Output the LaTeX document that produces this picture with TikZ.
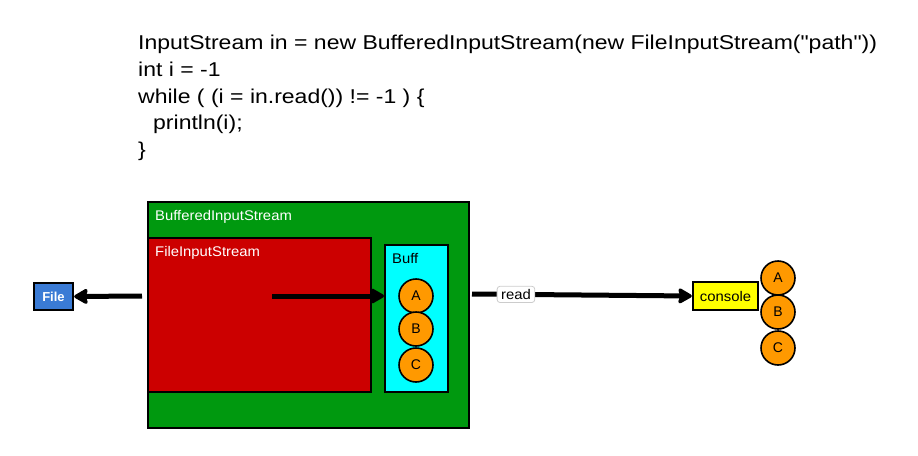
\documentclass[tikz,border=0pt]{standalone}
\usepackage{fontspec}
\usepackage{graphicx}
\setmainfont{Liberation Sans}
\usetikzlibrary{arrows.meta}
\definecolor{bgreen}{RGB}{0,153,15}
\definecolor{fred}{RGB}{204,0,0}
\definecolor{bcyan}{RGB}{0,255,255}
\definecolor{borange}{RGB}{255,153,0}
\definecolor{fblue}{RGB}{58,123,213}
\definecolor{cyellow}{RGB}{255,255,0}
\newcommand{\wcode}[1]{\scalebox{1.15}[1]{#1}}
\newcommand{\wlab}[1]{\scalebox{1.06}[1]{#1}}
\tikzset{
  codeline/.style={anchor=base west, inner sep=0pt, font=\fontsize{20}{22}\selectfont},
  boxlabel/.style={anchor=base west, inner sep=0pt, font=\fontsize{14}{16}\selectfont},
  ball/.style={circle, draw=black, line width=1.6pt, fill=borange, minimum size=34pt, inner sep=0pt, font=\fontsize{14}{16}\selectfont},
  bigarrow/.style={line width=5pt, -{Stealth[length=16pt,width=18pt,inset=2.5pt,round]}},
  boxframe/.style={draw=black, line width=2.4pt, inner sep=0pt}
}
\begin{document}
\begin{tikzpicture}[x=1pt,y=-1pt]
\useasboundingbox (0,0) rectangle (918,455);
% code
\node[codeline] (c1) at (138,49.3) {\wcode{InputStream in = new BufferedInputStream(new FileInputStream(\textquotedbl path\textquotedbl))}};
\node[codeline] (c2) at (138,76) {\wcode{int i = -1}};
\node[codeline] (c3) at (138,103) {\wcode{while ( (i = in.read()) != -1 ) \{}};
\node[codeline] (c4) at (153,129.5) {\wcode{println(i);}};
\node[codeline] (c5) at (138,156) {\wcode{\}}};
% boxes
\node[boxframe, fill=bgreen, minimum width=321pt, minimum height=226pt, anchor=north west] (bis) at (147,201) {};
\node[boxlabel, text=white] (bisl) at (155,220) {\wlab{BufferedInputStream}};
\node[boxframe, fill=fred, minimum width=223pt, minimum height=154pt, anchor=north west] (fis) at (147,237) {};
\node[boxlabel, text=white] (fisl) at (155,256) {\wlab{FileInputStream}};
\node[boxframe, fill=bcyan, minimum width=63pt, minimum height=147pt, anchor=north west] (buff) at (384,244) {};
\node[boxlabel] (buffl) at (392,263) {\wlab{Buff}};
\node[ball] (a1) at (416,296) {A};
\node[ball] (b1) at (416,329) {B};
\node[ball] (c1b) at (416,365) {C};
\node[boxframe, fill=fblue, minimum width=39pt, minimum height=27pt, text=white, font=\bfseries\fontsize{13}{15}\selectfont] (file) at (53.5,296.5) {File};
\node[boxframe, fill=cyellow, minimum width=65pt, minimum height=28pt, font=\fontsize{14}{16}\selectfont] (cons) at (725.5,296) {\wlab{console}};
\node[ball] (a2) at (778,278) {A};
\node[ball] (b2) at (778,312) {B};
\node[ball] (c2b) at (778,348) {C};
% connectors
\coordinate (fstart) at (142,296);
\coordinate (istart) at (272,296);
\coordinate (rstart) at (472,294);
\draw[bigarrow] (fstart) -- (file.east);
\draw[bigarrow] (istart) -- (buff.west |- istart);
\draw[bigarrow] (rstart) -- (cons.west) node[pos=0.2, fill=white, draw=black!20, rounded corners=3pt, line width=0.8pt, inner xsep=4pt, inner ysep=3pt, font=\fontsize{14}{16}\selectfont] (readl) {\wlab{read}};
\end{tikzpicture}
\end{document}
